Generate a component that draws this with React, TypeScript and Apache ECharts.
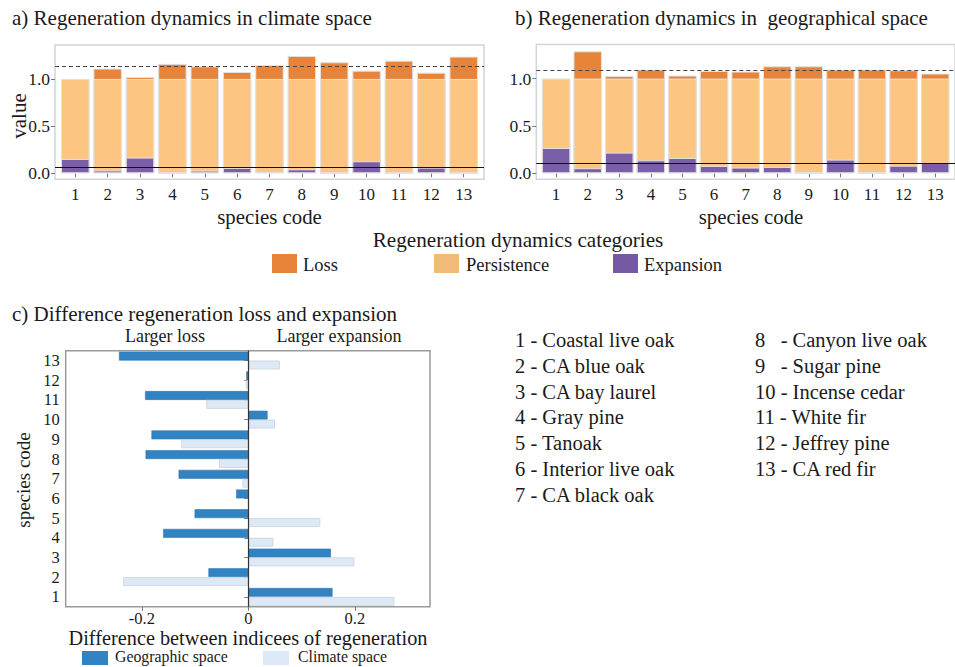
import React, { useEffect, useRef } from "react";
import * as echarts from "echarts";

// ---------- data ----------
const speciesCodes = [1, 2, 3, 4, 5, 6, 7, 8, 9, 10, 11, 12, 13];
const valueTicks = [0, 0.5, 1.0];
const diffTicks = [-0.2, 0, 0.2];

// a) climate space
const climatePersistence = [1, 1, 1, 1, 1, 1, 1, 1, 1, 1, 1, 1, 1];
const climateLoss = [0, 0.11, 0.02, 0.16, 0.134, 0.074, 0.148, 0.244, 0.177, 0.088, 0.194, 0.067, 0.237];
const climateExpansion = [0.152, 0.03, 0.166, 0, 0.028, 0.057, 0.014, 0.042, 0, 0.127, 0, 0.06, 0];
const climateLossLine = 1.131;
const climateExpansionLine = 0.057;

// b) geographical space
const geoPersistence = [1, 1, 1, 1, 1, 1, 1, 1, 1, 1, 1, 1, 1];
const geoLoss = [0, 0.288, 0.028, 0.095, 0.032, 0.081, 0.074, 0.13, 0.13, 0.095, 0.095, 0.088, 0.053];
const geoExpansion = [0.267, 0.053, 0.218, 0.137, 0.161, 0.077, 0.06, 0.067, 0, 0.144, 0, 0.08, 0.109];
const geoLossLine = 1.09;
const geoExpansionLine = 0.109;

// c) difference (expansion vs loss)
const geographicDiff = [0.158, -0.075, 0.155, -0.16, -0.101, -0.023, -0.131, -0.193, -0.182, 0.036, -0.194, -0.004, -0.243];
const climateDiff = [0.274, -0.235, 0.199, 0.047, 0.135, 0, -0.011, -0.055, -0.126, 0.05, -0.079, -0.005, 0.059];

const speciesNames = [
  "1 - Coastal live oak",
  "2 - CA blue oak",
  "3 - CA bay laurel",
  "4 - Gray pine",
  "5 - Tanoak",
  "6 - Interior live oak",
  "7 - CA black oak",
  "8   - Canyon live oak",
  "9   - Sugar pine",
  "10 - Incense cedar",
  "11 - White fir",
  "12 - Jeffrey pine",
  "13 - CA red fir",
];

// ---------- styles ----------
const SERIF = '"Liberation Serif", "DejaVu Serif", serif';
const C_LOSS = "#e8843a";
const C_PERS = "#fcc582";
const C_EXP = "#7b5ea8";
const C_GEO = "#3283c1";
const C_CLIM = "#dde9f6";
const TXT = "#1a1a1a";

function txt(text: string, x: number, y: number, size: number, extra: any = {}) {
  return {
    type: "text",
    x,
    y,
    rotation: extra.rotation || 0,
    style: {
      text,
      fill: TXT,
      fontFamily: SERIF,
      fontSize: size,
      lineHeight: extra.lineHeight || Math.round(size * 1.05),
      align: extra.align || "left",
      verticalAlign: "middle",
    },
  };
}

// Loss is drawn as the part of a bar above persistence: the loss bar spans
// 0..(persistence+loss) and the persistence bar is drawn over it.
function stackedPanel(
  g: number,
  pers: number[],
  loss: number[],
  exp: number[],
  lossLine: number,
  expLine: number
) {
  const bw = 28.5;
  const border = { borderColor: "#e2e2e2", borderWidth: 1 };
  return [
    {
      name: "Loss",
      type: "bar",
      xAxisIndex: g,
      yAxisIndex: g,
      barWidth: bw,
      barGap: "-100%",
      z: 1,
      itemStyle: { color: C_LOSS, ...border },
      data: speciesCodes.map((c, i) => [c, pers[i] + loss[i]]),
    },
    {
      name: "Persistence",
      type: "bar",
      xAxisIndex: g,
      yAxisIndex: g,
      barWidth: bw,
      barGap: "-100%",
      z: 2,
      itemStyle: { color: C_PERS, ...border },
      data: speciesCodes.map((c, i) => [c, pers[i]]),
    },
    {
      name: "Expansion",
      type: "bar",
      xAxisIndex: g,
      yAxisIndex: g,
      barWidth: bw,
      barGap: "-100%",
      z: 3,
      itemStyle: { color: C_EXP, ...border },
      data: speciesCodes.map((c, i) => [c, exp[i]]),
      markLine: {
        silent: true,
        symbol: "none",
        label: { show: false },
        z: 5,
        data: [
          { yAxis: lossLine, lineStyle: { color: "#444", type: [4, 3], width: 1.2 } },
          { yAxis: expLine, lineStyle: { color: "#111", type: "solid", width: 1.2 } },
        ],
      },
    },
  ];
}

function barXAxis(g: number) {
  return {
    type: "value",
    gridIndex: g,
    min: 0.373,
    max: 13.627,
    splitLine: { show: false },
    axisLine: { show: false },
    axisTick: { show: true, customValues: speciesCodes, length: 4, lineStyle: { color: "#777" } },
    axisLabel: {
      customValues: speciesCodes,
      fontFamily: SERIF,
      fontSize: 17,
      lineHeight: 17,
      color: TXT,
      margin: 7,
      formatter: (v: number) => String(Math.round(v)),
    },
  };
}

function barYAxis(g: number) {
  return {
    type: "value",
    gridIndex: g,
    min: -0.064,
    max: 1.36,
    splitLine: { show: false },
    axisLine: { show: false },
    axisTick: { show: true, customValues: valueTicks, length: 4, lineStyle: { color: "#777" } },
    axisLabel: {
      customValues: valueTicks,
      fontFamily: SERIF,
      fontSize: 17.5,
      color: TXT,
      margin: 5,
      formatter: (v: number) => v.toFixed(1),
    },
  };
}

export default function App() {
  const ref = useRef<HTMLDivElement>(null);

  useEffect(() => {
    document.body.style.margin = "0";
    if (!ref.current) return;
    const chart = echarts.init(ref.current, undefined, { renderer: "svg" });

    const graphics: any[] = [
      txt("a) Regeneration dynamics in climate space", 12, 18, 21),
      txt("b) Regeneration dynamics in  geographical space", 515, 18, 21),
      txt("value", 19, 116, 21, { rotation: Math.PI / 2, align: "center" }),
      txt("species code", 269.5, 216.5, 20.8, { align: "center" }),
      txt("species code", 751, 216.5, 20.8, { align: "center" }),
      txt("Regeneration dynamics categories", 518, 240, 21.2, { align: "center" }),
      { type: "rect", shape: { x: 272, y: 254, width: 25, height: 19 }, style: { fill: C_LOSS } },
      txt("Loss", 303, 265, 18.5),
      { type: "rect", shape: { x: 434, y: 254, width: 25, height: 19 }, style: { fill: "#f1ba78" } },
      txt("Persistence", 466, 265, 18.5),
      { type: "rect", shape: { x: 613, y: 254, width: 25, height: 19 }, style: { fill: "#7559a3" } },
      txt("Expansion", 644, 265, 18.5),
      txt("c) Difference regeneration loss and expansion", 12, 314, 21),
      txt("Larger loss", 165, 336, 18, { align: "center" }),
      txt("Larger expansion", 339, 336, 18, { align: "center" }),
      txt("species code", 23, 480, 19, { rotation: Math.PI / 2, align: "center" }),
      txt("Difference between indicees of regeneration", 248, 637.5, 20.3, { align: "center", lineHeight: 18 }),
      { type: "rect", shape: { x: 82, y: 651, width: 26, height: 14 }, style: { fill: C_GEO } },
      txt("Geographic space", 115, 656, 15.8, { lineHeight: 15 }),
      { type: "rect", shape: { x: 263, y: 651, width: 26, height: 14 }, style: { fill: C_CLIM } },
      txt("Climate space", 298, 656, 15.8, { lineHeight: 15 }),
    ];
    const rowY0 = 340;
    const rowStep = 25.8;
    speciesNames.forEach((n, i) => {
      const col = i < 7 ? 0 : 1;
      const row = i < 7 ? i : i - 7;
      graphics.push(txt(n, col === 0 ? 515 : 755, rowY0 + row * rowStep, 20.5));
    });

    const option: any = {
      animation: false,
      backgroundColor: "#ffffff",
      textStyle: { fontFamily: SERIF },
      grid: [
        { left: 55, top: 45, width: 429, height: 134.3, show: true, borderColor: "#d4d4d4", borderWidth: 1.5, backgroundColor: "transparent" },
        { left: 536.3, top: 44.5, width: 430.8, height: 134.8, show: true, borderColor: "#d4d4d4", borderWidth: 1.5, backgroundColor: "transparent" },
        { left: 65.7, top: 350.7, width: 364.3, height: 256, show: true, borderColor: "#9a9a9a", borderWidth: 1.5, backgroundColor: "transparent" },
      ],
      xAxis: [
        barXAxis(0),
        barXAxis(1),
        {
          type: "value",
          gridIndex: 2,
          min: -0.343,
          max: 0.341,
          splitLine: { show: false },
          axisLine: { show: false },
          axisTick: { show: true, customValues: diffTicks, length: 4, lineStyle: { color: "#777" } },
          axisLabel: {
            customValues: diffTicks,
            fontFamily: SERIF,
            fontSize: 16.5,
            lineHeight: 16,
            color: TXT,
            margin: 4,
            formatter: (v: number) => (Math.abs(v) < 1e-9 ? "0" : String(v)),
          },
        },
      ],
      yAxis: [
        barYAxis(0),
        barYAxis(1),
        {
          type: "category",
          gridIndex: 2,
          data: speciesCodes.map(String),
          splitLine: { show: false },
          axisLine: { show: false },
          axisTick: { show: true, interval: 0, alignWithLabel: true, length: 4, lineStyle: { color: "#777" } },
          axisLabel: { interval: 0, fontFamily: SERIF, fontSize: 16.5, lineHeight: 17, color: TXT, margin: 6 },
        },
      ],
      series: [
        ...stackedPanel(0, climatePersistence, climateLoss, climateExpansion, climateLossLine, climateExpansionLine),
        ...stackedPanel(1, geoPersistence, geoLoss, geoExpansion, geoLossLine, geoExpansionLine),
        {
          name: "Geographic space",
          type: "bar",
          xAxisIndex: 2,
          yAxisIndex: 2,
          barGap: "0%",
          barCategoryGap: "10%",
          itemStyle: { color: C_GEO, borderColor: "#2f78b2", borderWidth: 0.6 },
          data: geographicDiff,
          markLine: {
            silent: true,
            symbol: "none",
            label: { show: false },
            data: [{ xAxis: 0, lineStyle: { color: "#333", type: "solid", width: 1.2 } }],
          },
        },
        {
          name: "Climate space",
          type: "bar",
          xAxisIndex: 2,
          yAxisIndex: 2,
          barGap: "0%",
          barCategoryGap: "10%",
          itemStyle: { color: C_CLIM, borderColor: "#c9d3de", borderWidth: 0.8 },
          data: climateDiff,
        },
      ],
      graphic: graphics,
    };

    chart.setOption(option);
    return () => chart.dispose();
  }, []);

  return <div ref={ref} style={{ width: 955, height: 667 }} />;
}
